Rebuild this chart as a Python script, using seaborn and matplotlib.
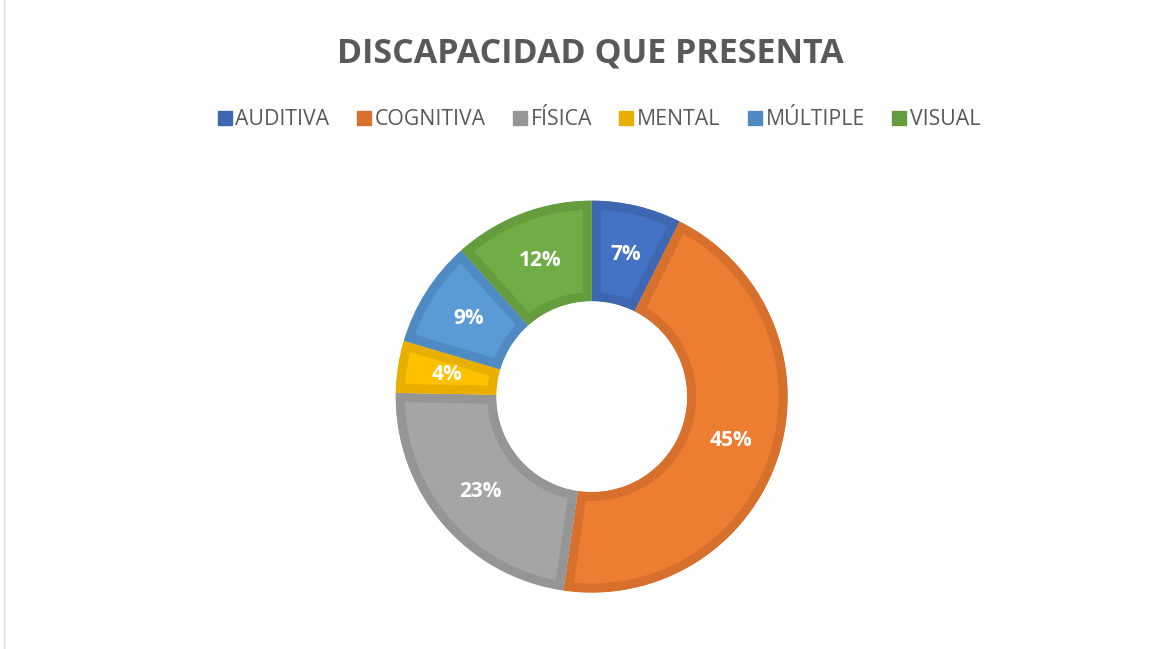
import matplotlib
matplotlib.use("Agg")
import matplotlib.pyplot as plt
import seaborn as sns
from matplotlib.lines import Line2D

categories = ["AUDITIVA", "COGNITIVA", "FÍSICA", "MENTAL", "MÚLTIPLE", "VISUAL"]
values = [7.4, 44.9, 23.0, 4.3, 8.8, 11.6]
fill_colors = ["#4472C4", "#ED7D31", "#A5A5A5", "#FFC000", "#5B9BD5", "#70AD47"]
edge_colors = ["#3F66B0", "#D6702C", "#959595", "#E8AE00", "#4F8BC2", "#649C3E"]
title = "DISCAPACIDAD QUE PRESENTA"

sns.set_theme(style="white")
plt.rcParams["font.family"] = ["Open Sans", "DejaVu Sans"]

W, H = 1166, 649
fig = plt.figure(figsize=(W / 100, H / 100), dpi=100)
fig.patch.set_facecolor("white")

# donut axes
cx, cy, R = 591.7, 396.6, 196.0
pad = 1.05
side = 2 * R * pad
ax = fig.add_axes([(cx - side / 2) / W, 1 - (cy + side / 2) / H, side / W, side / H])
wedges, texts, autotexts = ax.pie(
    values, startangle=90, counterclock=False, colors=fill_colors,
    autopct=lambda p: f"{p:.0f}%", pctdistance=0.745,
    wedgeprops=dict(width=0.513, linewidth=13),
    textprops=dict(color="white", fontsize=15, fontweight="bold"),
)
ax.set_xlim(-pad, pad)
ax.set_ylim(-pad, pad)
ax.set_aspect("equal")
ax.axis("off")
for w, ec in zip(wedges, edge_colors):
    w.set_edgecolor(ec)
    w.set_clip_on(True)
    w.set_clip_path(w.get_path(), w.get_transform())

fig.text(590 / W, 1 - 53 / H, title, ha="center", va="center",
         fontsize=24.5, fontweight="bold", color="#595959")

handles = [Line2D([], [], marker="s", linestyle="none", markersize=9.5,
                  markerfacecolor=c, markeredgecolor=c) for c in edge_colors]
leg = fig.legend(handles, categories, loc="center", bbox_to_anchor=(597 / W, 1 - 119.5 / H),
                 ncol=6, frameon=False, fontsize=15.3, handletextpad=0.0,
                 columnspacing=1.12, handlelength=1.0, labelcolor="#595959")

fig.add_artist(Line2D([4 / W, 4 / W], [0, 1], color="#D9D9D9", linewidth=1))

fig.savefig("out.png", dpi=100)
